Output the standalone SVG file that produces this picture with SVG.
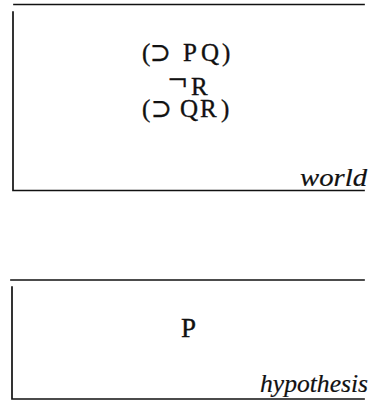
<svg xmlns="http://www.w3.org/2000/svg" width="369" height="402" viewBox="0 0 369 402">
<style>
.frame{fill:none;stroke:#111;stroke-width:1.7;stroke-linecap:square}
.f{font-family:"Liberation Serif","DejaVu Serif",serif;fill:#111;stroke:#111;stroke-width:0.35}
.lbl{font-family:"Liberation Serif","DejaVu Serif",serif;font-style:italic;fill:#111;stroke:#111;stroke-width:0.2}
</style>
<rect width="369" height="402" fill="#fff"/>
<g id="world">
<polyline class="frame" points="14,4.5 364,4.5"/>
<polyline class="frame" points="13,12 13,190.5 364,190.5"/>
<text class="f" font-size="25" y="61"><tspan x="142">(</tspan><tspan x="150">⊃</tspan><tspan x="183">P</tspan><tspan x="201">Q</tspan><tspan x="222">)</tspan></text>
<text class="f" font-size="25" y="95"><tspan x="168" dy="-5" font-size="34">¬</tspan><tspan x="191" dy="5">R</tspan></text>
<text class="f" font-size="25" y="117"><tspan x="142">(</tspan><tspan x="151">⊃</tspan><tspan x="180">Q</tspan><tspan x="200">R</tspan><tspan x="221">)</tspan></text>
<text class="lbl" font-size="26" x="300" y="186" textLength="67" lengthAdjust="spacingAndGlyphs">world</text>
</g>
<g id="hypothesis">
<polyline class="frame" points="11,280 364,280"/>
<polyline class="frame" points="12,287 12,399 364,399"/>
<text class="f" font-size="27" x="181" y="337">P</text>
<text class="lbl" font-size="26" x="260" y="392" textLength="108" lengthAdjust="spacingAndGlyphs">hypothesis</text>
</g>
</svg>
